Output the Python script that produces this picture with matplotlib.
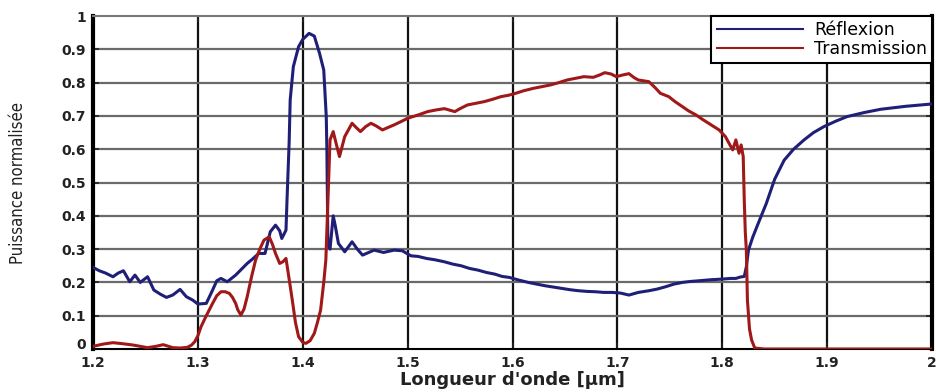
import matplotlib
matplotlib.use("Agg")
import matplotlib.pyplot as plt

# Spectres de réflexion / transmission (longueur d'onde en µm)
refl_wl = [1.200, 1.206, 1.212, 1.219, 1.224, 1.229, 1.235, 1.240, 1.245, 1.252,
           1.258, 1.264, 1.270, 1.276, 1.283, 1.289, 1.295, 1.300, 1.308, 1.314,
           1.318, 1.322, 1.328, 1.336, 1.347, 1.352, 1.358, 1.364, 1.369, 1.374,
           1.378, 1.380, 1.384, 1.385, 1.387, 1.388, 1.391, 1.396, 1.400, 1.406,
           1.411, 1.416, 1.420, 1.4224, 1.423, 1.4235, 1.424, 1.426, 1.429, 1.431,
           1.434, 1.440, 1.447, 1.452, 1.457, 1.468, 1.477, 1.487, 1.495, 1.503,
           1.510, 1.518, 1.526, 1.535, 1.543, 1.551, 1.559, 1.567, 1.575, 1.583,
           1.590, 1.597, 1.606, 1.615, 1.623, 1.631, 1.639, 1.647, 1.655, 1.663,
           1.671, 1.679, 1.687, 1.695, 1.703, 1.711, 1.720, 1.730, 1.738, 1.746,
           1.754, 1.762, 1.770, 1.778, 1.789, 1.800, 1.808, 1.813, 1.817, 1.821,
           1.823, 1.825, 1.829, 1.833, 1.842, 1.850, 1.859, 1.868, 1.878, 1.887,
           1.897, 1.908, 1.919, 1.935, 1.951, 1.975, 2.000]
refl = [0.245, 0.235, 0.228, 0.217, 0.228, 0.235, 0.202, 0.222, 0.200, 0.217,
        0.177, 0.165, 0.155, 0.162, 0.179, 0.157, 0.147, 0.135, 0.137, 0.177,
        0.205, 0.212, 0.202, 0.222, 0.257, 0.270, 0.287, 0.287, 0.352, 0.372,
        0.355, 0.332, 0.357, 0.450, 0.620, 0.748, 0.848, 0.908, 0.930, 0.948,
        0.940, 0.888, 0.838, 0.698, 0.598, 0.447, 0.312, 0.300, 0.400, 0.370,
        0.317, 0.292, 0.322, 0.300, 0.282, 0.297, 0.290, 0.297, 0.295, 0.280,
        0.278, 0.272, 0.268, 0.262, 0.255, 0.250, 0.242, 0.237, 0.230, 0.225,
        0.218, 0.215, 0.207, 0.200, 0.195, 0.190, 0.186, 0.182, 0.178, 0.175,
        0.173, 0.172, 0.170, 0.170, 0.168, 0.162, 0.170, 0.175, 0.180, 0.187,
        0.195, 0.200, 0.203, 0.205, 0.208, 0.210, 0.212, 0.212, 0.216, 0.218,
        0.247, 0.297, 0.335, 0.367, 0.437, 0.510, 0.567, 0.600, 0.628, 0.650,
        0.668, 0.684, 0.698, 0.710, 0.720, 0.729, 0.736]

trans_wl = [1.200, 1.210, 1.219, 1.228, 1.238, 1.245, 1.252, 1.260, 1.267, 1.272,
            1.276, 1.283, 1.290, 1.294, 1.297, 1.300, 1.303, 1.308, 1.314, 1.318,
            1.322, 1.326, 1.330, 1.333, 1.336, 1.338, 1.341, 1.344, 1.347, 1.351,
            1.355, 1.359, 1.363, 1.368, 1.371, 1.374, 1.378, 1.381, 1.384, 1.387,
            1.390, 1.393, 1.396, 1.400, 1.403, 1.407, 1.411, 1.414, 1.417, 1.420,
            1.422, 1.424, 1.426, 1.429, 1.432, 1.435, 1.440, 1.447, 1.451, 1.455,
            1.460, 1.465, 1.470, 1.476, 1.481, 1.487, 1.493, 1.500, 1.510, 1.519,
            1.527, 1.535, 1.545, 1.550, 1.557, 1.565, 1.573, 1.581, 1.589, 1.596,
            1.603, 1.611, 1.620, 1.628, 1.636, 1.644, 1.652, 1.660, 1.668, 1.677,
            1.683, 1.688, 1.694, 1.699, 1.705, 1.711, 1.716, 1.720, 1.730, 1.736,
            1.741, 1.749, 1.755, 1.762, 1.768, 1.775, 1.781, 1.787, 1.792, 1.797,
            1.803, 1.807, 1.810, 1.813, 1.816, 1.818, 1.820, 1.821, 1.822, 1.823,
            1.824, 1.826, 1.828, 1.831, 1.840, 2.000]
trans = [0.008, 0.015, 0.019, 0.016, 0.012, 0.008, 0.004, 0.008, 0.013, 0.008,
         0.004, 0.003, 0.005, 0.012, 0.022, 0.040, 0.067, 0.100, 0.137, 0.160,
         0.172, 0.172, 0.167, 0.155, 0.137, 0.118, 0.102, 0.120, 0.157, 0.215,
         0.267, 0.300, 0.327, 0.337, 0.315, 0.287, 0.257, 0.262, 0.272, 0.210,
         0.147, 0.080, 0.037, 0.020, 0.017, 0.025, 0.047, 0.080, 0.117, 0.200,
         0.267, 0.447, 0.628, 0.653, 0.615, 0.578, 0.638, 0.678, 0.665, 0.653,
         0.668, 0.678, 0.670, 0.658, 0.665, 0.673, 0.682, 0.693, 0.703, 0.713,
         0.718, 0.722, 0.713, 0.722, 0.733, 0.738, 0.743, 0.750, 0.758, 0.762,
         0.768, 0.776, 0.783, 0.788, 0.793, 0.800, 0.808, 0.813, 0.818, 0.816,
         0.823, 0.830, 0.826, 0.818, 0.823, 0.827, 0.815, 0.808, 0.803, 0.785,
         0.768, 0.758, 0.743, 0.728, 0.715, 0.703, 0.690, 0.678, 0.668, 0.658,
         0.638, 0.615, 0.598, 0.628, 0.588, 0.613, 0.578, 0.447, 0.350, 0.297,
         0.147, 0.060, 0.027, 0.003, 0.000, 0.000]

x_ticks = [1.2, 1.3, 1.4, 1.5, 1.6, 1.7, 1.8, 1.9, 2.0]
x_labels = ["1.2", "1.3", "1.4", "1.5", "1.6", "1.7", "1.8", "1.9", "2"]
y_ticks = [0, 0.1, 0.2, 0.3, 0.4, 0.5, 0.6, 0.7, 0.8, 0.9, 1]
y_labels = ["0", "0.1", "0.2", "0.3", "0.4", "0.5", "0.6", "0.7", "0.8", "0.9", "1"]

fig = plt.figure(figsize=(9.36, 3.92), dpi=100)
ax = fig.add_axes([0.0994, 0.1097, 0.8963, 0.8493])

ax.plot(refl_wl, refl, color="#1f1f78", lw=2.2, label="Réflexion", zorder=3)
ax.plot(trans_wl, trans, color="#a01818", lw=2.2, label="Transmission", zorder=4)

ax.set_xlim(1.2, 2.0)
ax.set_ylim(0, 1)
ax.set_xticks(x_ticks)
ax.set_xticklabels(x_labels)
ax.set_yticks(y_ticks)
ax.set_yticklabels(y_labels)

# grille : verticales noires, horizontales grises
for xv in x_ticks[1:-1]:
    ax.axvline(xv, color="#111111", lw=1.6, zorder=1)
for yv in y_ticks[1:-1]:
    ax.axhline(yv, color="#6a6a6a", lw=1.6, zorder=1)

ax.tick_params(direction="in", length=4, width=1.2, top=True, right=True,
               labelsize=10, colors="#222222")
ax.tick_params(axis="x", pad=5)
ax.tick_params(axis="y", pad=5)
for lab in ax.get_xticklabels() + ax.get_yticklabels():
    lab.set_fontweight("bold")
# le "0" de l'axe y posé sur sa ligne de base pour laisser la place au "1.2"
ax.get_yticklabels()[0].set_verticalalignment("baseline")

ax.spines["left"].set_linewidth(3)
ax.spines["right"].set_linewidth(3)
ax.spines["bottom"].set_linewidth(1.5)
ax.spines["top"].set_linewidth(1.5)
ax.spines["top"].set_color("#777777")

ax.set_xlabel("Longueur d'onde [µm]", fontsize=13, fontweight="bold",
              color="#222222")
ax.xaxis.set_label_coords(0.5, -0.093, transform=ax.transAxes)
ax.xaxis.label.set_verticalalignment("center")
ax.set_ylabel("Puissance normalisée", fontsize=12, color="#222222",
              family=["Liberation Sans Narrow", "DejaVu Sans"], fontstretch="condensed")
ax.yaxis.set_label_coords(-0.09, 0.5, transform=ax.transAxes)
ax.yaxis.label.set_verticalalignment("center")

leg = ax.legend(loc="upper right", borderaxespad=0, frameon=True, fancybox=False,
                handlelength=5.0, handletextpad=0.6, borderpad=0.3,
                labelspacing=0.05, prop={"size": 12.5})
leg.get_frame().set_edgecolor("black")
leg.get_frame().set_linewidth(1.5)
leg.get_frame().set_alpha(1)
for line in leg.get_lines():
    line.set_linewidth(1.5)

fig.savefig("out.png", dpi=100)
